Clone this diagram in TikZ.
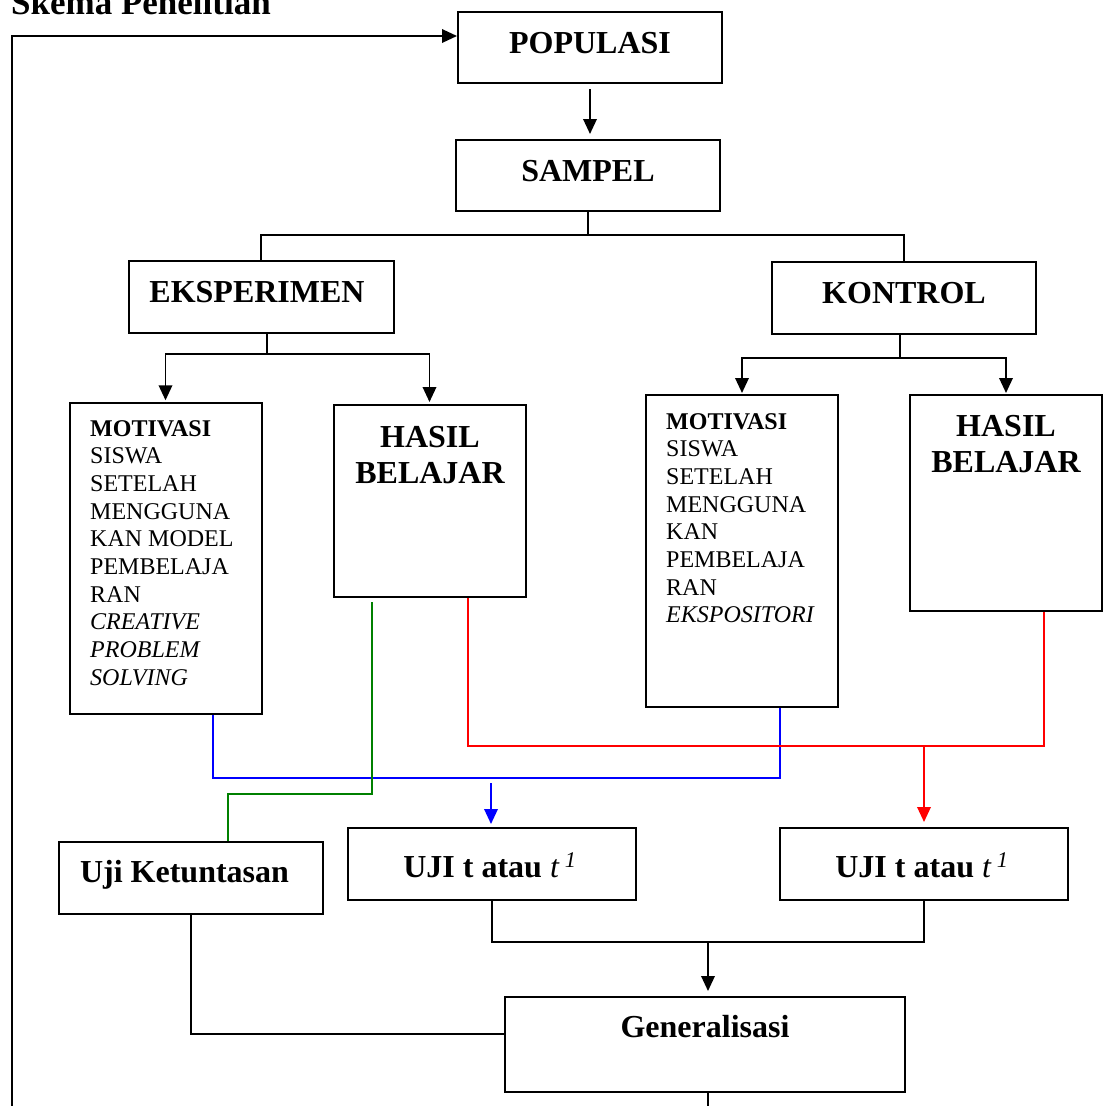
\documentclass[tikz,border=0pt]{standalone}
\usepackage{fontspec}
\setmainfont{Liberation Serif}
\usetikzlibrary{arrows.meta}

\tikzset{
  box/.style={draw, line width=2pt, inner sep=0pt},
  big/.style={font=\fontsize{32}{36}\selectfont\bfseries, inner sep=0pt},
  small/.style={font=\fontsize{24}{27.7}\selectfont, inner sep=0pt, align=left, anchor=north west},
  link/.style={line width=1.9pt},
  arr/.style={link, -{Triangle[length=15pt,width=13.5pt]}},
}

\begin{document}
\begin{tikzpicture}[x=1pt,y=-1pt]
  \useasboundingbox (0,0) rectangle (1109,1106);

  % judul
  \node[font=\fontsize{35}{40}\selectfont\bfseries, inner sep=0pt, anchor=base west] (judul) at (11,14) {Skema Penelitian};

  % kotak
  \node[box, minimum width=264pt, minimum height=71pt] (pop) at (590,47.5) {};
  \node[box, minimum width=264pt, minimum height=71pt] (sam) at (588,175.5) {};
  \node[box, minimum width=265pt, minimum height=72pt] (eks) at (261,296.7) {};
  \node[box, minimum width=264pt, minimum height=72pt] (kon) at (904,298.3) {};
  \node[box, minimum width=192pt, minimum height=311pt] (mot1) at (165.5,558.8) {};
  \node[box, minimum width=192pt, minimum height=192pt] (has1) at (429.5,501) {};
  \node[box, minimum width=192pt, minimum height=312pt] (mot2) at (742,551) {};
  \node[box, minimum width=192pt, minimum height=216pt] (has2) at (1006,503) {};
  \node[box, minimum width=264pt, minimum height=72pt] (uji) at (191.3,877.8) {};
  \node[box, minimum width=288pt, minimum height=72pt] (ut1) at (492,864) {};
  \node[box, minimum width=288pt, minimum height=72pt] (ut2) at (924,864) {};
  \node[box, minimum width=400pt, minimum height=95pt] (gen) at (705,1044.5) {};

  % teks
  \node[big, anchor=base] (popt) at (590,53) {POPULASI};
  \node[big, anchor=base] (samt) at (588,181) {SAMPEL};
  \node[big, anchor=base] (ekst) at (257,302) {EKSPERIMEN};
  \node[big, anchor=base] (kont) at (904,303) {KONTROL};
  \node[big, align=center, anchor=north] (has1t) at (430,426) {HASIL\\BELAJAR};
  \node[big, align=center, anchor=north] (has2t) at (1006,415) {HASIL\\BELAJAR};
  \node[small] (mot1t) at (90,420) {\textbf{MOTIVASI}\\SISWA\\SETELAH\\MENGGUNA\\KAN MODEL\\PEMBELAJA\\RAN\\\textit{CREATIVE}\\\textit{PROBLEM}\\\textit{SOLVING}};
  \node[small] (mot2t) at (666,413) {\textbf{MOTIVASI}\\SISWA\\SETELAH\\MENGGUNA\\KAN\\PEMBELAJA\\RAN\\\textit{EKSPOSITORI}};
  \node[big, anchor=base] (ujit) at (184.5,882) {Uji Ketuntasan};
  \node[big, anchor=base] (ut1t) at (490,877) {UJI t atau \textit{\mdseries t}\,\textsuperscript{\textit{\mdseries 1}}};
  \node[big, anchor=base] (ut2t) at (922,877) {UJI t atau \textit{\mdseries t}\,\textsuperscript{\textit{\mdseries 1}}};
  \node[big, anchor=base] (gent) at (705,1037) {Generalisasi};

  % titik bantu
  \coordinate (sj) at (588,235);
  \coordinate (ej) at (267,354);
  \coordinate (kj) at (900,358);
  \coordinate (bl) at (213,778);
  \coordinate (br) at (780,778);
  \coordinate (bd) at (491,783);
  \coordinate (rl) at (468,746);
  \coordinate (rr) at (1044,746);
  \coordinate (rd) at (924,746);
  \coordinate (gt) at (372,602);
  \coordinate (gb) at (372,794);
  \coordinate (gl) at (228,794);
  \coordinate (uj) at (708,942);
  \coordinate (uk) at (192,1034);
  \coordinate (ge) at (708,1106);
  \coordinate (lb) at (12,1106);
  \coordinate (lt) at (12,36);

  % garis hitam
  \draw[arr, shorten <=5pt, shorten >=5pt] (pop.south) -- (pop.south |- sam.north);
  \draw[link] (sam.south) -- (sj);
  \draw[link] (eks.north) |- (sj) -| (kon.north);
  \draw[link] (ej |- eks.south) -- (ej);
  \draw[arr, shorten >=2pt] (ej) -| (mot1.north);
  \draw[arr, shorten >=2pt] (ej) -| (has1.north);
  \draw[link] (kj |- kon.south) -- (kj);
  \draw[arr, shorten >=1pt] (kj) -| (mot2.north);
  \draw[arr, shorten >=1pt] (kj) -| (has2.north);

  % garis berwarna
  \draw[link, blue] (bl |- mot1.south) -- (bl) -- (br) -- (br |- mot2.south);
  \draw[arr, blue, shorten >=3pt] (bd) -- (bd |- ut1.north);
  \draw[link, red] (rl |- has1.south) -- (rl) -- (rr) -- (rr |- has2.south);
  \draw[arr, red, shorten >=5pt] (rd) -- (rd |- ut2.north);
  \draw[link, green!50!black] (gt) -- (gb) -- (gl) -- (gl |- uji.north);

  % ke generalisasi
  \draw[link] (ut1.south) |- (uj) -| (ut2.south);
  \draw[arr, shorten >=5pt] (uj) -- (uj |- gen.north);
  \draw[link] (uji.south) |- (uk) -- (uk -| gen.west);
  \draw[link] (ge |- gen.south) -- (ge);
  \draw[arr] (lb) -- (lt) -- (lt -| pop.west);
\end{tikzpicture}
\end{document}
